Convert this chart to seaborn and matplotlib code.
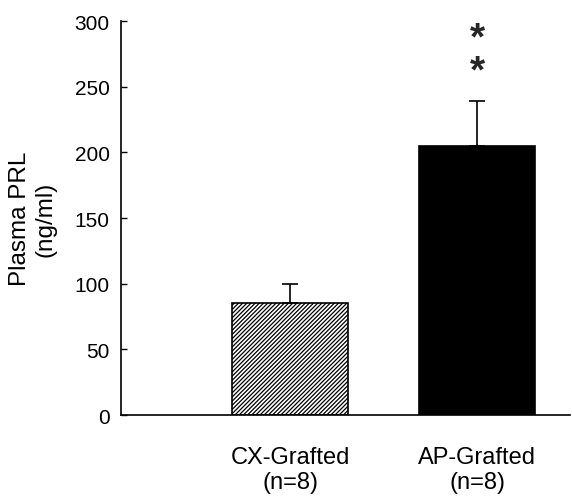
import matplotlib
matplotlib.use("Agg")
import matplotlib.pyplot as plt
import seaborn as sns
import pandas as pd

groups = ["CX-Grafted\n(n=8)", "AP-Grafted\n(n=8)"]
means = [85, 205]
sems = [15, 34]
yticks = [0, 50, 100, 150, 200, 250, 300]

sns.set_style("ticks")
plt.rcParams["font.family"] = ["Liberation Sans", "DejaVu Sans"]
plt.rcParams["hatch.linewidth"] = 0.9

df = pd.DataFrame({"group": groups, "prl": means})

fig = plt.figure(figsize=(5.72, 5.02), dpi=100)
ax = fig.add_axes([0.2115, 0.1713, 0.785, 0.7847])

sns.barplot(data=df, x="group", y="prl", order=groups, errorbar=None,
            width=0.62, ax=ax, palette=["white", "black"], hue="group",
            legend=False, edgecolor="black", linewidth=1.2)
ax.patches[0].set_hatch("////////")

ax.errorbar(range(len(groups)), means, yerr=[[0] * len(sems), sems],
            fmt="none", ecolor="black", elinewidth=1.2, capsize=6, capthick=1.2)

ax.text(1, 287, "*", ha="center", va="center", fontsize=28, fontweight="bold")
ax.text(1, 262, "*", ha="center", va="center", fontsize=28, fontweight="bold")

ax.set_ylim(0, 300)
ax.set_xlim(-0.906, 1.495)
ax.set_yticks(yticks)
ax.set_yticklabels([str(t) for t in yticks], fontsize=15)
ax.tick_params(axis="y", direction="in", length=4, width=1, pad=8, colors="black")
ax.tick_params(axis="x", length=0, pad=22, labelsize=17, colors="black")
ax.set_xlabel("")
ax.set_ylabel("Plasma PRL\n(ng/ml)", fontsize=17.5, labelpad=13, color="black")
for s in ["top", "right"]:
    ax.spines[s].set_visible(False)
for s in ["left", "bottom"]:
    ax.spines[s].set_linewidth(1.2)
    ax.spines[s].set_color("black")

fig.savefig("out.png", dpi=100)
